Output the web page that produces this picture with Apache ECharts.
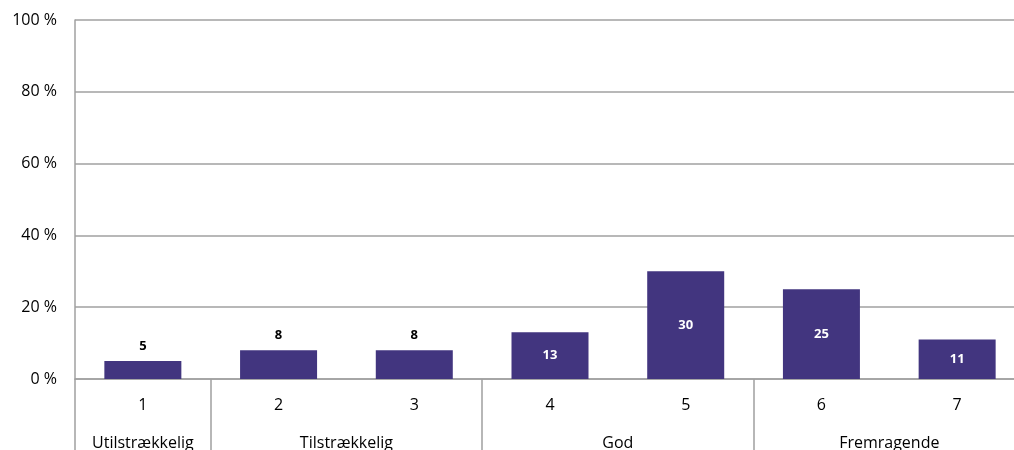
<!DOCTYPE html>
<html>
<head>
<meta charset="utf-8">
<script src="https://cdn.jsdelivr.net/npm/echarts@6/dist/echarts.min.js"></script>
<style>
html,body{margin:0;padding:0;background:#fff;}
#chart{width:1014px;height:450px;}
</style>
</head>
<body>
<div id="chart"></div>
<script>
const categories = ['1','2','3','4','5','6','7'];
const values = [5, 8, 8, 13, 30, 25, 11];
const groupNames = ['Utilstrækkelig','Tilstrækkelig','God','Fremragende'];
const groupCenters = [0.5, 2, 4, 6];
const groupBoundaries = [0, 1, 3, 5, 7];
const yTicks = [0, 20, 40, 60, 80, 100];

const FONT = 'Open Sans';
const chart = echarts.init(document.getElementById('chart'));

const barData = values.map(v => ({
  value: v,
  label: v < 10
    ? {position: 'top', color: '#000', distance: 8}
    : {position: 'inside', color: '#fff'}
}));

chart.setOption({
  animation: false,
  grid: {left: 75, top: 20, width: 950, height: 359, outerBoundsMode: 'none', containLabel: false},
  xAxis: [{
    type: 'category',
    data: categories,
    position: 'bottom',
    axisLine: {show: true, lineStyle: {color: '#a0a0a0', width: 1.5}},
    axisTick: {show: false},
    axisLabel: {color: '#000', fontFamily: FONT, fontSize: 16, margin: 18}
  }, {
    type: 'value',
    min: 0, max: 7,
    position: 'bottom',
    splitLine: {show: false},
    axisLine: {show: false},
    axisTick: {show: true, customValues: groupBoundaries, length: 75, lineStyle: {color: '#a0a0a0', width: 1.5}},
    axisLabel: {
      customValues: groupCenters,
      color: '#000', fontFamily: FONT, fontSize: 16, margin: 56,
      formatter: (v) => groupNames[groupCenters.indexOf(v)]
    }
  }],
  yAxis: {
    type: 'value',
    min: 0, max: 100, interval: 20,
    axisLine: {show: true, lineStyle: {color: '#a0a0a0', width: 1.5}},
    axisTick: {show: false},
    splitLine: {lineStyle: {color: '#a0a0a0', width: 1.5}},
    axisLabel: {color: '#000', fontFamily: FONT, fontSize: 16, margin: 18,
      customValues: yTicks, formatter: '{value} %'}
  },
  series: [{
    type: 'bar',
    xAxisIndex: 0,
    data: barData,
    barWidth: 77,
    itemStyle: {color: '#42357F'},
    label: {show: true, fontFamily: FONT, fontSize: 13, fontWeight: 'bold'}
  }]
});
</script>
</body>
</html>
